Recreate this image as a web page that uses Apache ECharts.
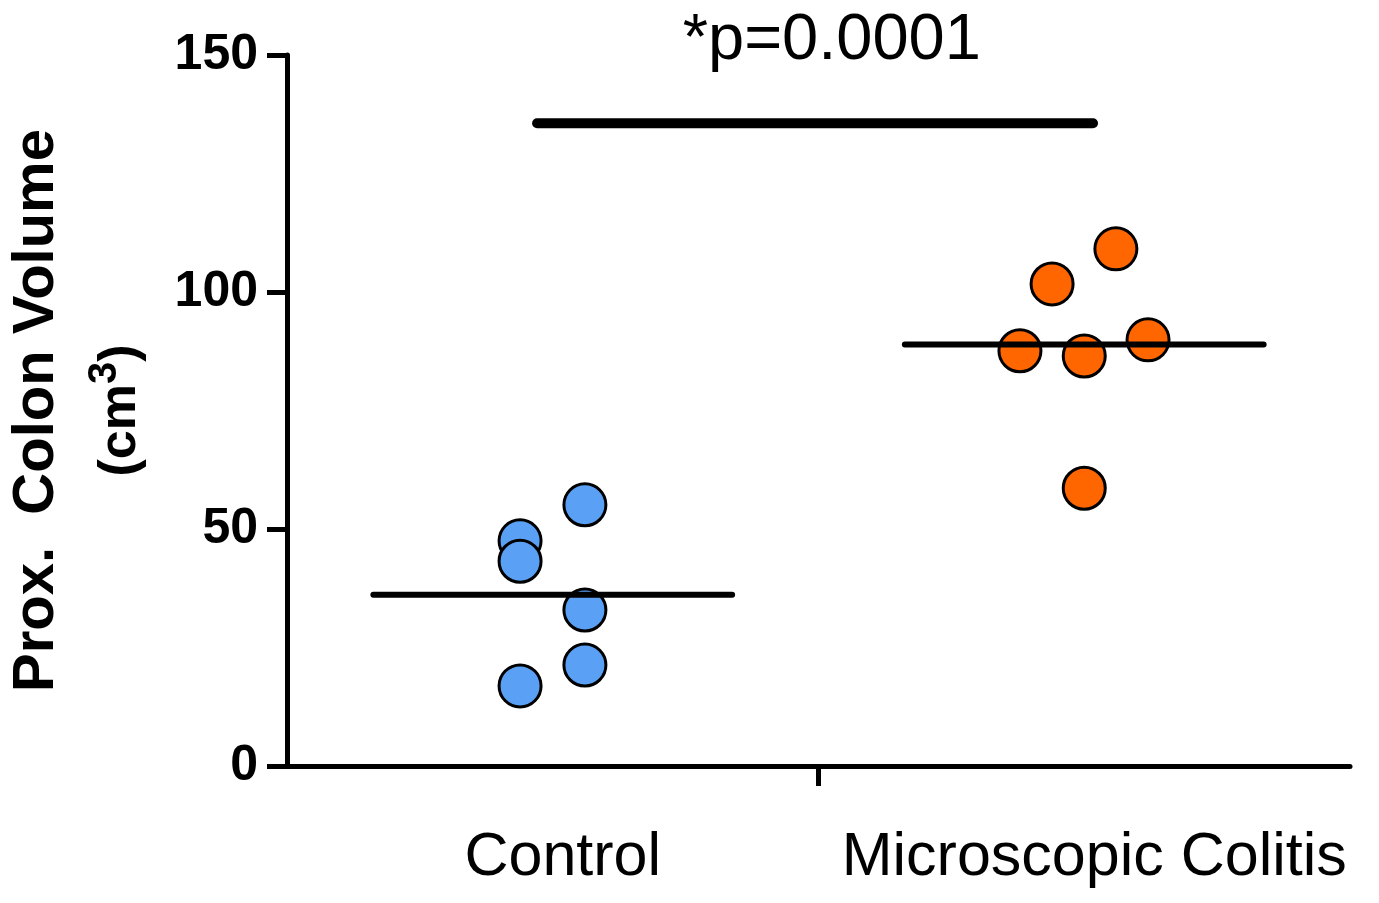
<!DOCTYPE html>
<html>
<head>
<meta charset="utf-8">
<script src="https://cdn.jsdelivr.net/npm/echarts@6/dist/echarts.min.js"></script>
<style>
  html, body { margin: 0; padding: 0; background: #fff; }
  #chart { width: 1379px; height: 903px; }
</style>
</head>
<body>
<div id="chart"></div>
<script>
// groups and their x positions on the value axis
var groups = ['Control', 'Microscopic Colitis'];
var groupX = [1, 3];

// points: [x (with jitter), volume]
var controlPoints = [[1.121, 55.1], [0.877, 47.5], [0.877, 43.2], [1.121, 32.9], [1.121, 21.3], [0.877, 16.9]];
var colitisPoints = [[3.119, 109.1], [2.879, 101.7], [3.240, 89.9], [2.758, 87.6], [3.000, 86.5], [3.000, 58.6]];

var yTicks = [0, 50, 100, 150];
var pText = '*p=0.0001';
var sigBar = [[0.941, 135.6], [3.033, 135.6]];

var FONT = 'Liberation Sans, Arial, sans-serif';

function mean(pts) {
  var s = 0;
  pts.forEach(function (p) { s += p[1]; });
  return s / pts.length;
}
function meanLine(cx, pts) {
  var m = mean(pts);
  return [[cx - 0.675, m], [cx + 0.675, m]];
}

var myChart = echarts.init(document.getElementById('chart'));

myChart.setOption({
  animation: false,
  grid: { left: 287, right: 29, top: 55, bottom: 137 },
  xAxis: {
    type: 'value',
    min: 0,
    max: 4,
    splitLine: { show: false },
    axisLine: { lineStyle: { color: '#000', width: 5 } },
    axisTick: {
      show: true,
      customValues: [2],
      length: 20,
      lineStyle: { color: '#000', width: 5 }
    },
    axisLabel: {
      customValues: groupX,
      formatter: function (v) {
        return groups[groupX.indexOf(v)];
      },
      margin: 62,
      padding: [0, 0, 0, 20],
      fontFamily: FONT,
      fontSize: 61,
      color: '#000'
    }
  },
  yAxis: {
    type: 'value',
    min: 0,
    max: 150,
    interval: 50,
    splitLine: { show: false },
    axisLine: { show: true, lineStyle: { color: '#000', width: 5 } },
    axisTick: {
      show: true,
      length: 20,
      lineStyle: { color: '#000', width: 5 }
    },
    axisLabel: {
      margin: 29,
      fontFamily: FONT,
      fontSize: 50,
      fontWeight: 'bold',
      color: '#000',
      formatter: function (v) { return yTicks.indexOf(v) >= 0 ? String(v) : ''; }
    },
    name: '{t|Prox.  Colon Volume}\n{u|(cm}{s|3}{u|)}',
    nameLocation: 'middle',
    nameGap: 124,
    nameTextStyle: {
      rich: {
        t: { fontFamily: FONT, fontSize: 58, fontWeight: 'bold', color: '#000', lineHeight: 84 },
        u: { fontFamily: FONT, fontSize: 52, fontWeight: 'bold', color: '#000', lineHeight: 84 },
        s: { fontFamily: FONT, fontSize: 40, fontWeight: 'bold', color: '#000', lineHeight: 84, verticalAlign: 'top', padding: [6, 0, 0, 0] }
      }
    }
  },
  series: [
    {
      type: 'scatter',
      data: controlPoints,
      symbolSize: 42,
      itemStyle: { color: '#5AA0F5', borderColor: '#000', borderWidth: 3, opacity: 1 },
      z: 2
    },
    {
      type: 'scatter',
      data: colitisPoints,
      symbolSize: 42,
      itemStyle: { color: '#FF6600', borderColor: '#000', borderWidth: 3, opacity: 1 },
      z: 2
    },
    {
      type: 'line',
      data: meanLine(groupX[0], controlPoints),
      symbol: 'none',
      lineStyle: { color: '#000', width: 6, cap: 'round' },
      z: 3
    },
    {
      type: 'line',
      data: meanLine(groupX[1], colitisPoints),
      symbol: 'none',
      lineStyle: { color: '#000', width: 6, cap: 'round' },
      z: 3
    },
    {
      type: 'line',
      data: sigBar,
      symbol: 'none',
      lineStyle: { color: '#000', width: 10, cap: 'round' },
      z: 3
    },
    {
      type: 'scatter',
      data: [[2.05, sigBar[0][1]]],
      symbolSize: 0.1,
      clip: false,
      itemStyle: { color: '#000', opacity: 1 },
      label: {
        show: true,
        position: 'top',
        distance: 50,
        formatter: pText,
        fontFamily: FONT,
        fontSize: 65,
        color: '#000',
        opacity: 1
      },
      z: 4
    }
  ]
});
</script>
</body>
</html>
